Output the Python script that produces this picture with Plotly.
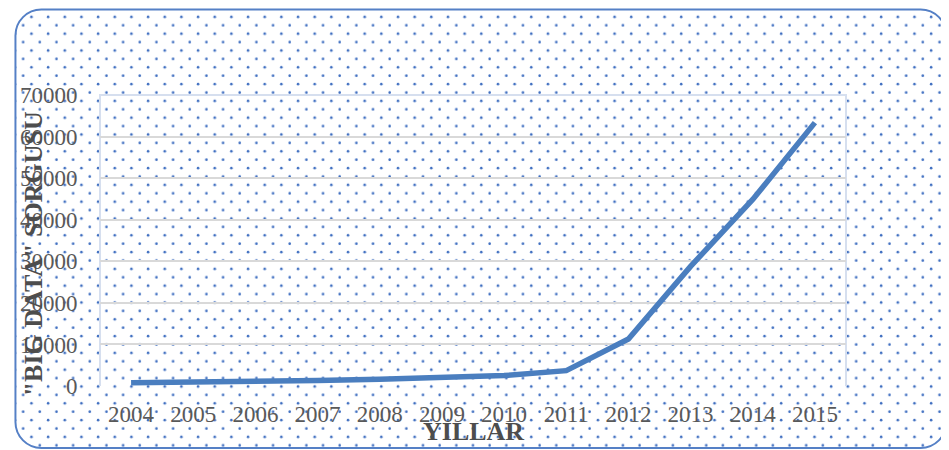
import base64
import plotly.graph_objects as go

years = ["2004", "2005", "2006", "2007", "2008", "2009", "2010", "2011", "2012", "2013", "2014", "2015"]
queries = [800, 900, 1100, 1300, 1600, 2000, 2500, 3700, 11300, 28800, 44900, 63400]
y_ticks = [0, 10000, 20000, 30000, 40000, 50000, 60000, 70000]
y_labels = [str(v) for v in y_ticks]

# the page body has an 8px margin: the figure starts at (8, 8) of the window
OFF = 8
W, H = 949 - OFF, 450 - OFF
PL, PT, PW, PH = 96, 95, 750, 291          # plot area in window pixels
L, T = PL - OFF, PT - OFF
R, B = W - L - PW, H - T - PH


def px_x(x):  # window pixel -> paper fraction
    return (x - PL) / PW


def px_y(y):
    return (PT + PH - y) / PH


bx, by, bw, bh = 11, 9.5, 936, 438.5
svg = f'''<svg xmlns="http://www.w3.org/2000/svg" width="{W}" height="{H}" viewBox="{OFF} {OFF} {W} {H}" preserveAspectRatio="none">
<defs>
<pattern id="p" patternUnits="userSpaceOnUse" x="6.25" y="-4" width="16.75" height="16.8">
<circle cx="4.1" cy="4.1" r="1.3" fill="#3D6DC0"/>
<circle cx="12.475" cy="12.5" r="1.3" fill="#3D6DC0"/>
</pattern>
</defs>
<rect x="{bx}" y="{by}" width="{bw}" height="{bh}" rx="26" ry="26" fill="#ffffff"/>
<rect x="{bx}" y="{by}" width="{bw}" height="{bh}" rx="26" ry="26" fill="url(#p)"/>
<rect x="{bx}" y="{by}" width="{bw}" height="{bh}" rx="26" ry="26" fill="none" stroke="#5580C6" stroke-width="2"/>
</svg>'''
src = "data:image/svg+xml;base64," + base64.b64encode(svg.encode()).decode()

fig = go.Figure()
fig.add_trace(go.Scatter(
    x=years, y=queries, mode="lines",
    line=dict(color="#4A7EBF", width=5.5),
    hoverinfo="x+y", showlegend=False,
))

serif = "Liberation Serif, Times New Roman, serif"

fig.update_layout(
    width=W, height=H,
    margin=dict(l=L, r=R, t=T, b=B, pad=0),
    paper_bgcolor="#ffffff",
    plot_bgcolor="rgba(0,0,0,0)",
    font=dict(family=serif, size=23, color="#595959"),
    xaxis=dict(
        type="category", range=[-0.5, 11.5],
        showgrid=False, zeroline=False, showline=False,
        ticks="outside", ticklen=7, tickcolor="rgba(0,0,0,0)",
        tickfont=dict(family=serif, size=23, color="#595959"),
    ),
    yaxis=dict(
        range=[0, 70050], tickvals=y_ticks, ticktext=y_labels,
        showgrid=True, gridcolor="#D9D9D9", gridwidth=2,
        zeroline=False, showline=False,
        ticks="outside", ticklen=17, tickcolor="rgba(0,0,0,0)",
        tickfont=dict(family=serif, size=23, color="#595959"),
    ),
    images=[dict(
        source=src, xref="paper", yref="paper",
        x=-L / PW, y=1 + T / PH, sizex=W / PW, sizey=H / PH,
        xanchor="left", yanchor="top", sizing="stretch", layer="below",
    )],
    shapes=[dict(
        type="path", xref="paper", yref="paper",
        path="M0,0 L0,1 L1,1 L1,0",
        line=dict(color="#D6DFEF", width=2), layer="below",
    )],
    annotations=[
        dict(text="<b>YILLAR</b>", xref="paper", yref="paper",
             x=px_x(472), y=px_y(432),
             xanchor="center", yanchor="middle", showarrow=False,
             font=dict(family=serif, size=26, color="#4D4D4D")),
        dict(text='<b>"BIG DATA" SORGUSU</b>', xref="paper", yref="paper",
             x=px_x(29), y=px_y(254), textangle=-90,
             xanchor="center", yanchor="middle", showarrow=False,
             font=dict(family=serif, size=26, color="#4D4D4D")),
    ],
)

fig.write_html("out.html")
